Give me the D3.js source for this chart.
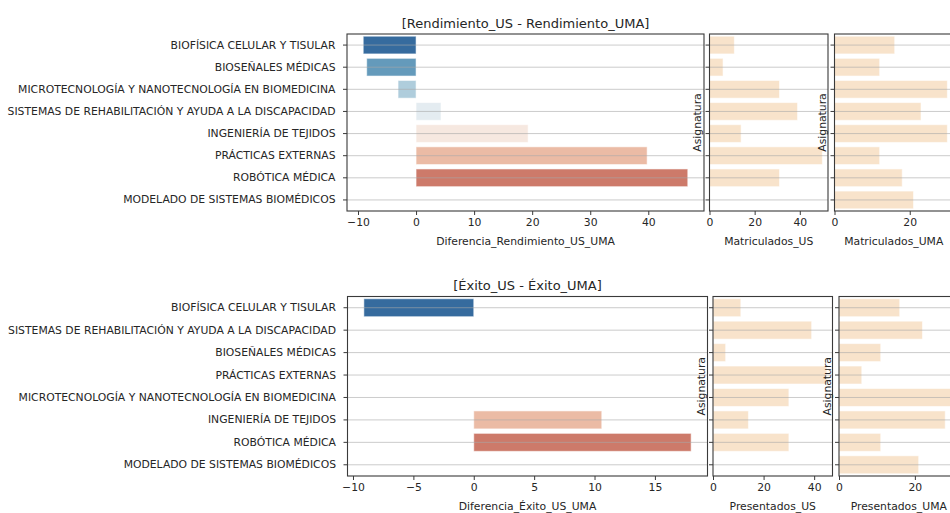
<!DOCTYPE html>
<html>
<head>
<meta charset="utf-8">
<script src="https://cdn.jsdelivr.net/npm/d3@7"></script>
<style>
  html, body { margin: 0; padding: 0; background: #ffffff; }
  svg { display: block; font-family: "DejaVu Sans", sans-serif; }
</style>
</head>
<body>
<svg id="chart" width="950" height="513"></svg>
<script>
// ---------------- DATA ----------------
const categoriesRendimiento = [
  "BIOFÍSICA CELULAR Y TISULAR",
  "BIOSEÑALES MÉDICAS",
  "MICROTECNOLOGÍA Y NANOTECNOLOGÍA EN BIOMEDICINA",
  "SISTEMAS DE REHABILITACIÓN Y AYUDA A LA DISCAPACIDAD",
  "INGENIERÍA DE TEJIDOS",
  "PRÁCTICAS EXTERNAS",
  "ROBÓTICA MÉDICA",
  "MODELADO DE SISTEMAS BIOMÉDICOS"
];
const diferenciaRendimiento = [-9.1, -8.5, -3.1, 4.3, 19.3, 39.8, 46.8, null];
const matriculadosUS  = [11, 6, 31, 39, 14, 50, 31, null];
const matriculadosUMA = [16, 12, 30, 23, 30, 12, 18, 21];

const categoriesExito = [
  "BIOFÍSICA CELULAR Y TISULAR",
  "SISTEMAS DE REHABILITACIÓN Y AYUDA A LA DISCAPACIDAD",
  "BIOSEÑALES MÉDICAS",
  "PRÁCTICAS EXTERNAS",
  "MICROTECNOLOGÍA Y NANOTECNOLOGÍA EN BIOMEDICINA",
  "INGENIERÍA DE TEJIDOS",
  "ROBÓTICA MÉDICA",
  "MODELADO DE SISTEMAS BIOMÉDICOS"
];
const diferenciaExito = [-9.1, 0, 0, 0, 0, 10.6, 18.0, null];
const presentadosUS  = [11, 39, 5, 45, 30, 14, 30, null];
const presentadosUMA = [16, 22, 11, 6, 30, 28, 11, 21];

const ticksRendimiento = [-10, 0, 10, 20, 30, 40];
const ticksExito = [-10, -5, 0, 5, 10, 15];
const ticksCount = [0, 20, 40];

const titleRendimiento = "[Rendimiento_US - Rendimiento_UMA]";
const titleExito = "[Éxito_US - Éxito_UMA]";
const xLabels = {
  rend: "Diferencia_Rendimiento_US_UMA",
  matUS: "Matriculados_US",
  matUMA: "Matriculados_UMA",
  exito: "Diferencia_Éxito_US_UMA",
  presUS: "Presentados_US",
  presUMA: "Presentados_UMA"
};
const yLabel = "Asignatura";

// ---------------- STYLE HELPERS ----------------
const brewerRdBu_r = ["#053061","#2166ac","#4393c3","#92c5de","#d1e5f0","#f7f7f7",
                      "#fddbc7","#f4a582","#d6604d","#b2182b","#67001f"];
const rdbu = d3.piecewise(d3.interpolateRgb, brewerRdBu_r);
function desat(c, p) { const h = d3.hsl(c); h.s *= p; return h.formatHex(); }
function palette(n) {
  return d3.range(n).map(i => desat(rdbu((i + 1) / (n + 1)), 0.75));
}
const countColor = desat("bisque", 0.75);

const svg = d3.select("#chart");
const FS = 10.8;
const textColor = "#262626";
const spineColor = "#3a3a3a";

function niceDomain(vals) {
  const v = vals.filter(d => d != null).concat([0]);
  const [lo, hi] = d3.extent(v);
  const m = (hi - lo) * 0.05;
  return [lo < 0 ? lo - m : 0, hi + m];
}

function panel(opt) {
  const { x0, x1, y0, y1, cats, vals, colors, ticks, xlabel, title, showYTickLabels, showYLabel } = opt;
  const g = svg.append("g");
  const x = d3.scaleLinear().domain(niceDomain(vals)).range([x0, x1]);
  const y = d3.scaleBand().domain(cats).range([y0, y1]).paddingInner(0.2).paddingOuter(0.1);
  const band = d3.scaleBand().domain(cats).range([y0, y1]);

  const clipId = "clip" + Math.round(x0) + "_" + Math.round(y0);
  svg.append("clipPath").attr("id", clipId)
    .append("rect").attr("x", x0).attr("y", y0).attr("width", x1 - x0).attr("height", y1 - y0);

  const plot = g.append("g").attr("clip-path", `url(#${clipId})`);
  const data = cats.map((c, i) => ({ c, v: vals[i], col: colors[i] })).filter(d => d.v != null && d.v !== 0);
  plot.selectAll("rect.bar").data(data).enter().append("rect")
    .attr("class", "bar")
    .attr("x", d => x(Math.min(0, d.v)))
    .attr("width", d => Math.abs(x(d.v) - x(0)))
    .attr("y", d => y(d.c))
    .attr("height", y.bandwidth())
    .attr("fill", d => d.col)
    .attr("stroke", "#ffffff")
    .attr("stroke-opacity", 0.55)
    .attr("stroke-width", 1);

  // horizontal gridlines above bars
  plot.selectAll("line.grid").data(cats).enter().append("line")
    .attr("x1", x0).attr("x2", x1)
    .attr("y1", d => band(d) + band.bandwidth() / 2)
    .attr("y2", d => band(d) + band.bandwidth() / 2)
    .attr("stroke", "#a8a8a8").attr("stroke-opacity", 0.6).attr("stroke-width", 1);

  // x axis
  const xa = g.append("g").attr("transform", `translate(0,${y1})`)
    .call(d3.axisBottom(x).tickValues(ticks.filter(t => t >= x.domain()[0] && t <= x.domain()[1]))
      .tickFormat(d => d < 0 ? "\u2212" + Math.abs(d) : d).tickSize(4).tickPadding(3.5));
  xa.select(".domain").remove();
  xa.selectAll("line").attr("stroke", spineColor);
  xa.selectAll("text").attr("fill", textColor).style("font-size", FS + "px").style("font-family", "DejaVu Sans");

  // y axis (tick marks, labels optional)
  const ya = g.append("g").attr("transform", `translate(${x0},0)`)
    .call(d3.axisLeft(band).tickSize(4).tickPadding(7.5)
      .tickFormat(d => showYTickLabels ? d : ""));
  ya.select(".domain").remove();
  ya.selectAll("line").attr("stroke", spineColor);
  ya.selectAll("text").attr("fill", textColor).style("font-size", FS + "px").style("font-family", "DejaVu Sans");

  // spines
  g.append("rect").attr("x", x0).attr("y", y0).attr("width", x1 - x0).attr("height", y1 - y0)
    .attr("fill", "none").attr("stroke", spineColor).attr("stroke-width", 1.1);

  // x label
  g.append("text").attr("x", (x0 + x1) / 2).attr("y", y1 + 34)
    .attr("text-anchor", "middle").attr("fill", textColor)
    .style("font-size", FS + "px").text(xlabel);

  if (showYLabel) {
    g.append("text").attr("transform", `translate(${x0 - 8.5},${(y0 + y1) / 2}) rotate(-90)`)
      .attr("text-anchor", "middle").attr("fill", textColor)
      .style("font-size", FS + "px").text(yLabel);
  }
  if (title) {
    g.append("text").attr("x", (x0 + x1) / 2).attr("y", y0 - 6.5)
      .attr("text-anchor", "middle").attr("fill", textColor)
      .style("font-size", "13px").text(title);
  }
}

const pal = palette(8);
const countCols = d3.range(8).map(() => countColor);

// Top row
panel({ x0: 347, x1: 704, y0: 34, y1: 211, cats: categoriesRendimiento, vals: diferenciaRendimiento,
  colors: pal, ticks: ticksRendimiento, xlabel: xLabels.rend, title: titleRendimiento,
  showYTickLabels: true, showYLabel: false });
panel({ x0: 709.5, x1: 828, y0: 34, y1: 211, cats: categoriesRendimiento, vals: matriculadosUS,
  colors: countCols, ticks: ticksCount, xlabel: xLabels.matUS, showYTickLabels: false, showYLabel: true });
panel({ x0: 834.5, x1: 953, y0: 34, y1: 211, cats: categoriesRendimiento, vals: matriculadosUMA,
  colors: countCols, ticks: ticksCount, xlabel: xLabels.matUMA, showYTickLabels: false, showYLabel: true });

// Bottom row
panel({ x0: 347.5, x1: 707.5, y0: 296.5, y1: 476, cats: categoriesExito, vals: diferenciaExito,
  colors: pal, ticks: ticksExito, xlabel: xLabels.exito, title: titleExito,
  showYTickLabels: true, showYLabel: false });
panel({ x0: 713, x1: 832.5, y0: 296.5, y1: 476, cats: categoriesExito, vals: presentadosUS,
  colors: countCols, ticks: ticksCount, xlabel: xLabels.presUS, showYTickLabels: false, showYLabel: true });
panel({ x0: 839, x1: 958.5, y0: 296.5, y1: 476, cats: categoriesExito, vals: presentadosUMA,
  colors: countCols, ticks: ticksCount, xlabel: xLabels.presUMA, showYTickLabels: false, showYLabel: true });
</script>
</body>
</html>
